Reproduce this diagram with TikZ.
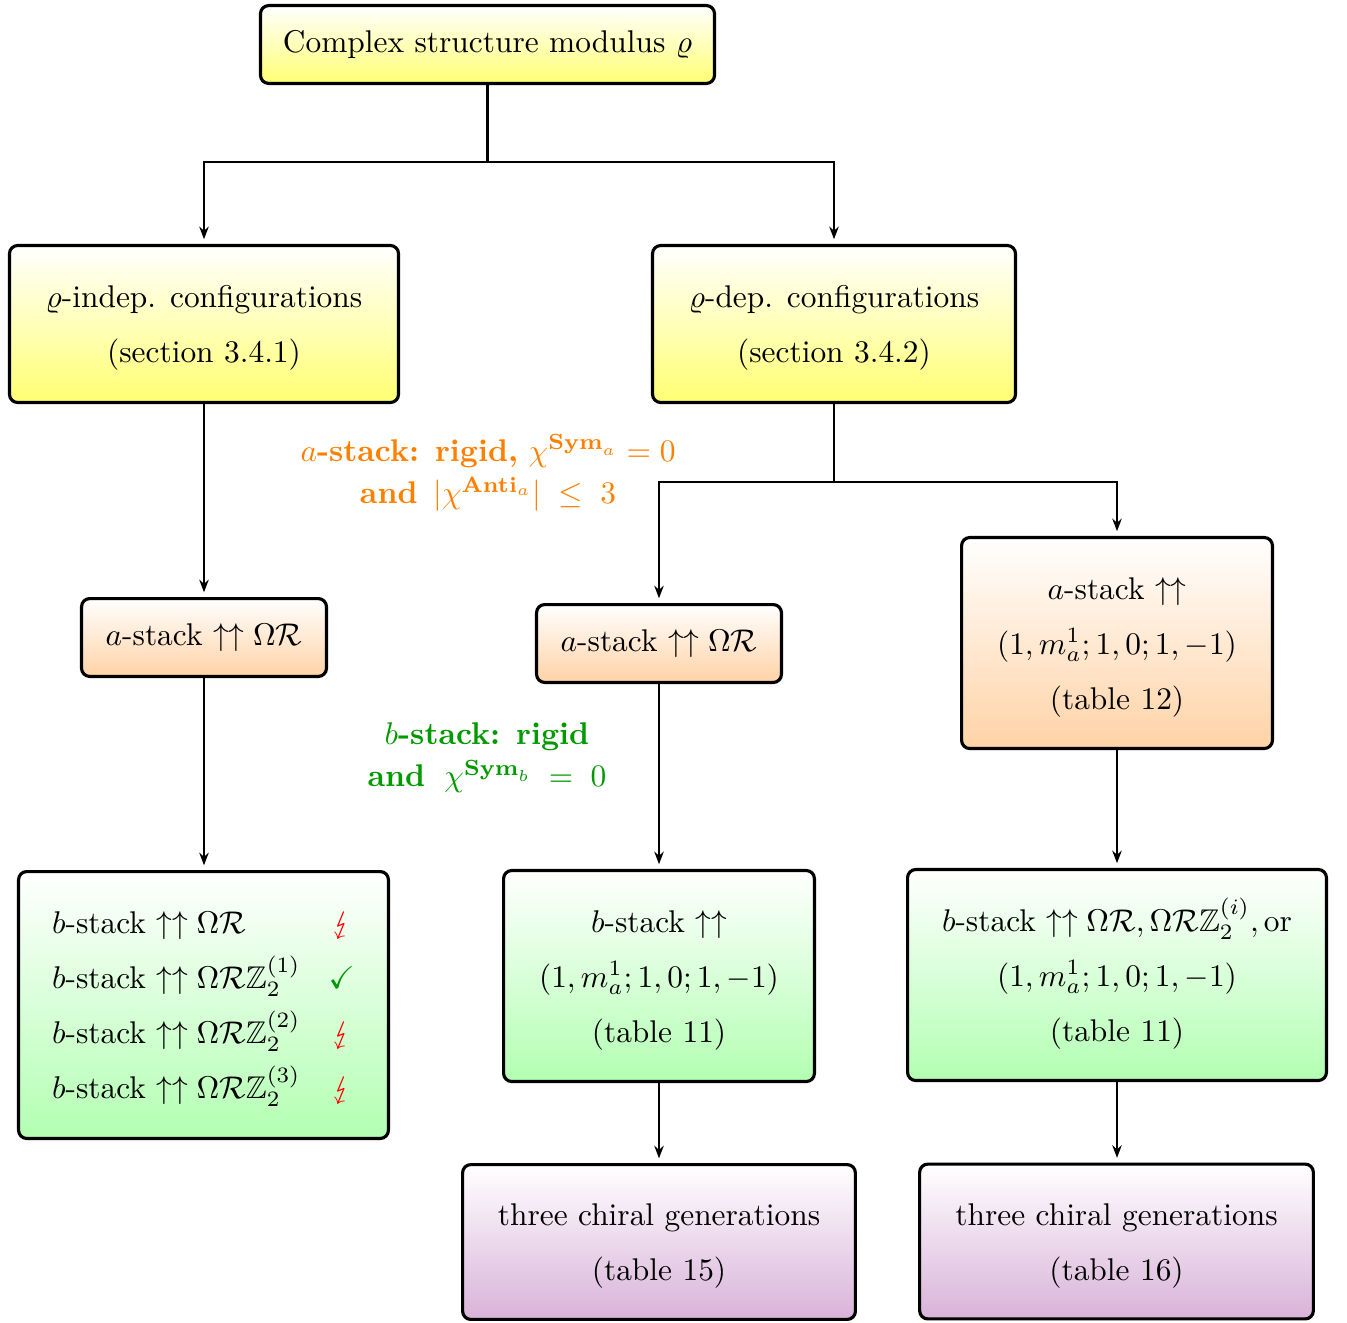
\documentclass[tikz,border=0pt]{standalone}
\usepackage{amsmath}
\usepackage{amssymb}
\usepackage{stmaryrd}
\usetikzlibrary{arrows.meta}
\newcommand{\mlines}[1]{{\renewcommand{\arraystretch}{1.46}\begin{tabular}{@{}c@{}}#1\end{tabular}}}
\newcommand{\llines}[1]{{\renewcommand{\arraystretch}{1.12}\begin{tabular}{@{}c@{}}#1\end{tabular}}}
\newcommand{\uu}{\uparrow\uparrow}
\colorlet{lblorange}{orange}
\colorlet{lblgreen}{green!60!black}
\tikzset{
  box/.style={draw, line width=1pt, rounded corners=2.6pt, align=center, inner sep=2pt},
  yelbox/.style={box, top color=white, bottom color=yellow!55},
  orgbox/.style={box, top color=white, bottom color=orange!35},
  grnbox/.style={box, top color=white, bottom color=green!30},
  purbox/.style={box, top color=white, bottom color=violet!30},
  arr/.style={line width=0.7pt, -{Stealth[length=4pt,width=3pt]}, shorten >=1.5pt},
  conn/.style={line width=0.7pt}
}
\begin{document}
\begin{tikzpicture}[x=0.3185pt, y=-0.3185pt]
\useasboundingbox (0,0) rectangle (1347,1322);

\node[yelbox, minimum width=144.6pt, minimum height=24.8pt] (top) at (487.5,44.5)
  {Complex structure modulus $\varrho$};

\node[yelbox, minimum width=123.9pt, minimum height=50pt] (indep) at (204,324)
  {\mlines{$\varrho$-indep. configurations\\(section 3.4.1)}};
\node[yelbox, minimum width=115.6pt, minimum height=50pt] (dep) at (834,324)
  {\mlines{$\varrho$-dep. configurations\\(section 3.4.2)}};

\node[orgbox, minimum width=78pt, minimum height=24.8pt] (aL) at (204,637.5)
  {$a$-stack $\uu\Omega\mathcal{R}$};
\node[orgbox, minimum width=78pt, minimum height=24.8pt] (aM) at (659,643.5)
  {$a$-stack $\uu\Omega\mathcal{R}$};
\node[orgbox, minimum width=99pt, minimum height=67.2pt] (aR) at (1117,643)
  {\mlines{$a$-stack $\uu$\\$(1,m_a^1;1,0;1,-1)$\\(table 12)}};

\node[grnbox, minimum width=117.8pt, minimum height=85pt] (gL) at (203.5,1005)
  {{\renewcommand{\arraystretch}{1.46}\begin{tabular}{@{}l@{\hspace{9pt}}c@{}}
   $b$-stack $\uu\Omega\mathcal{R}$ & \textcolor{red}{$\lightning$}\\
   $b$-stack $\uu\Omega\mathcal{R}\mathbb{Z}_2^{(1)}$ & \textcolor{green!60!black}{$\checkmark$}\\
   $b$-stack $\uu\Omega\mathcal{R}\mathbb{Z}_2^{(2)}$ & \textcolor{red}{$\lightning$}\\
   $b$-stack $\uu\Omega\mathcal{R}\mathbb{Z}_2^{(3)}$ & \textcolor{red}{$\lightning$}
  \end{tabular}}};
\node[grnbox, minimum width=99pt, minimum height=67.2pt] (gM) at (659,976)
  {\mlines{$b$-stack $\uu$\\$(1,m_a^1;1,0;1,-1)$\\(table 11)}};
\node[grnbox, minimum width=133.4pt, minimum height=67.2pt] (gR) at (1117,975)
  {\mlines{$b$-stack $\uu\Omega\mathcal{R},\Omega\mathcal{R}\mathbb{Z}_2^{(i)},\mathrm{or}$\\$(1,m_a^1;1,0;1,-1)$\\(table 11)}};

\node[purbox, minimum width=125.1pt, minimum height=49.3pt] (pM) at (659,1242)
  {\mlines{three chiral generations\\(table 15)}};
\node[purbox, minimum width=125.4pt, minimum height=49.3pt] (pR) at (1116.5,1241.5)
  {\mlines{three chiral generations\\(table 16)}};

\node[text=lblorange, align=center] (lblA) at (488,474)
  {\llines{$a$\textbf{-stack: rigid,} $\chi^{\textbf{Sym}_a}=0$\\\textbf{and} \,$|\chi^{\textbf{Anti}_a}|\;\leq\;3$}};
\node[text=lblgreen, align=center] (lblB) at (487,757)
  {\llines{$b$\textbf{-stack: rigid}\\\textbf{and} \;$\chi^{\textbf{Sym}_b}\;=\;0$}};

\coordinate (j1) at (487.5,162);
\coordinate (j2) at (834,482);
\draw[conn] (top.south) -- (j1);
\draw[arr] (j1) -| (indep.north);
\draw[arr] (j1) -| (dep.north);
\draw[arr] (indep.south) -- (aL.north);
\draw[conn] (dep.south) -- (j2);
\draw[arr] (j2) -| (aM.north);
\draw[arr] (j2) -| (aR.north);
\draw[arr] (aL.south) -- (gL.north -| aL.south);
\draw[arr] (aM.south) -- (gM.north);
\draw[arr] (aR.south) -- (gR.north);
\draw[arr] (gM.south) -- (pM.north);
\draw[arr] (gR.south) -- (pR.north -| gR.south);
\end{tikzpicture}
\end{document}
